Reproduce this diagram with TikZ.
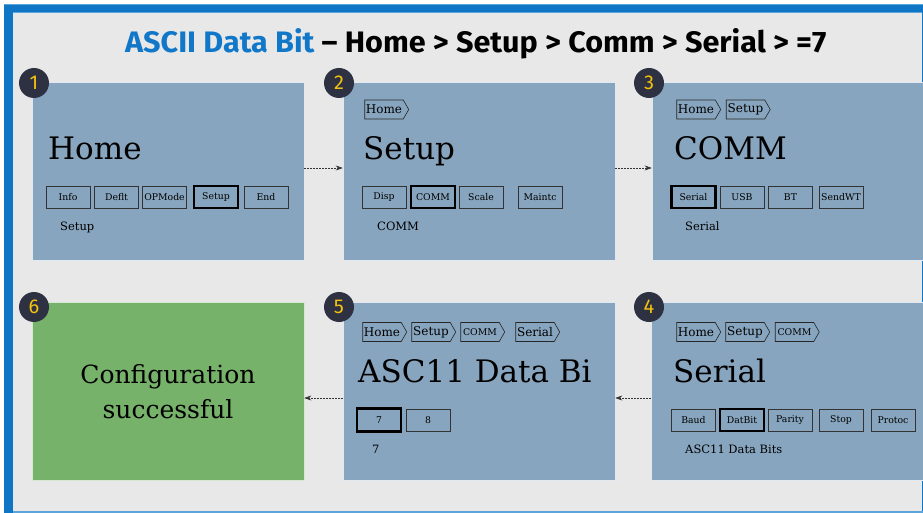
\documentclass[tikz,border=0pt]{standalone}
\usepackage{fontspec}
\setmainfont{DejaVu Serif}
\newfontfamily\titlefont{Fira Sans}
\usetikzlibrary{shapes.symbols,arrows.meta}
\definecolor{panelblue}{HTML}{87A5BE}
\definecolor{okgreen}{HTML}{77B26A}
\definecolor{frameblue}{HTML}{0E76C5}
\definecolor{lightframe}{HTML}{5BA5DC}
\definecolor{bggray}{HTML}{E8E8E8}
\definecolor{badgedark}{HTML}{2E3142}
\definecolor{badgenum}{HTML}{F4C20D}
\definecolor{titleblue}{HTML}{1177C8}
\tikzset{
  panelbox/.style={fill=panelblue, draw=white!75!panelblue, line width=0.6pt, minimum width=272pt, minimum height=178pt, inner sep=0pt},
  greenbox/.style={panelbox, fill=okgreen, draw=white!70!okgreen},
  btn/.style={draw=black!80, line width=0.8pt, minimum width=44pt, minimum height=22pt, inner sep=0pt, font=\fontsize{9.3}{10}\selectfont},
  btnsel/.style={btn, draw=black, line width=2.4pt},
  crumb/.style={signal, signal to=east, signal pointer angle=120, draw=black!85, line width=0.6pt, minimum width=44pt, minimum height=19pt, inner sep=0.5pt, font=\fontsize{12}{12}\selectfont},
  crumbsmall/.style={crumb, font=\fontsize{9.3}{10}\selectfont},
  badgec/.style={circle, fill=badgedark, minimum size=30pt, inner sep=0pt, text=badgenum, font=\titlefont\fontsize{20}{20}\selectfont},
  ptitle/.style={anchor=base west, inner sep=0pt, font=\fontsize{31}{31}\selectfont},
  plabel/.style={anchor=base west, inner sep=0pt, font=\fontsize{11.5}{12}\selectfont},
  bigtext/.style={anchor=base, inner sep=0pt, font=\fontsize{25}{30}\selectfont},
  dasharrow/.style={draw=black!80, line width=0.6pt, dash pattern=on 2pt off 1pt, -{Stealth[length=7pt,width=5pt]}}
}
\begin{document}
\begin{tikzpicture}[x=1pt,y=-1pt]
\useasboundingbox (0,0) rectangle (923,513);
\clip (0,0) rectangle (923,513);
% frame
\fill[white] (0,0) rectangle (923,513);
\fill[frameblue] (4,4) rectangle (930,513);
\fill[bggray] (13,12) rectangle (922,511);
\fill[lightframe] (13,511) rectangle (930,513);
\draw[lightframe, line width=0.6pt] (4,4.3) -- (930,4.3);
\draw[lightframe, line width=0.6pt] (13,12.3) -- (922,12.3);
% title
\node[anchor=base west, inner sep=0pt] (title) at (125,53)
  {\resizebox{701pt}{24pt}{\titlefont\bfseries{\color{titleblue}ASCII Data Bit}\ – Home > Setup > Comm > Serial > =7}};
% panels
\node[panelbox] (p1) at (168,171) {};
\node[panelbox] (p2) at (479,171) {};
\node[panelbox] (p3) at (788,171) {};
\node[panelbox] (p4) at (787,391) {};
\node[panelbox] (p5) at (479,391) {};
\node[greenbox] (p6) at (168,391) {};
% arrows
\draw[dasharrow] ([yshift=3pt]p1.east) -- ([yshift=3pt]p2.west);
\draw[dasharrow] ([yshift=3pt]p2.east) -- ([yshift=3pt]p3.west);
\draw[dasharrow] ([yshift=-7pt]p4.west) -- ([yshift=-7pt]p5.east);
\draw[dasharrow] ([yshift=-7pt]p5.west) -- ([yshift=-7pt]p6.east);
% badges
\node[badgec] (b1) at (34,83) {1};
\node[badgec] (b2) at (339,83) {2};
\node[badgec] (b3) at (649,83) {3};
\node[badgec] (b4) at (649,307) {4};
\node[badgec] (b5) at (339,307) {5};
\node[badgec] (b6) at (34,307) {6};
% panel 1
\node[ptitle] (t1) at (48,160) {Home};
\node[btn] (p1b1) at (68,197) {Info};
\node[btn] (p1b2) at (116.5,197) {Deflt};
\node[btn] (p1b3) at (164.5,197) {OPMode};
\node[btnsel] (p1b4) at (216,197) {Setup};
\node[btn] (p1b5) at (266,197) {End};
\node[plabel] (l1) at (60,230) {Setup};
% panel 2
\node[crumb] (c21) at (384,109.5) {Home};
\node[ptitle] (t2) at (363,160) {Setup};
\node[btn] (p2b1) at (384,197) {Disp};
\node[btnsel] (p2b2) at (433,197) {COMM};
\node[btn] (p2b3) at (481,197) {Scale};
\node[btn] (p2b4) at (540,197) {Maintc};
\node[plabel] (l2) at (377,230) {COMM};
% panel 3
\node[crumb] (c31) at (696,109.5) {Home};
\node[crumb] (c32) at (745.5,109.5) {Setup};
\node[ptitle] (t3) at (674,160) {COMM};
\node[btnsel] (p3b1) at (693.5,197) {Serial};
\node[btn] (p3b2) at (742,197) {USB};
\node[btn] (p3b3) at (790.5,197) {BT};
\node[btn] (p3b4) at (841,197) {SendWT};
\node[plabel] (l3) at (685,230) {Serial};
% panel 4
\node[crumb] (c41) at (696,332) {Home};
\node[crumb] (c42) at (745,332) {Setup};
\node[crumbsmall] (c43) at (794.5,332) {COMM};
\node[ptitle] (t4) at (673,382) {Serial};
\node[btn] (p4b1) at (693.5,420) {Baud};
\node[btnsel] (p4b2) at (742,420) {DatBit};
\node[btn] (p4b3) at (790,420) {Parity};
\node[btn] (p4b4) at (841,420) {Stop};
\node[btn] (p4b5) at (893,420) {Protoc};
\node[plabel] (l4) at (685,453) {ASC11 Data Bits};
% panel 5
\node[crumb] (c51) at (382,332) {Home};
\node[crumb] (c52) at (431,332) {Setup};
\node[crumbsmall] (c53) at (480,332) {COMM};
\node[crumb] (c54) at (535,332) {Serial};
\node[ptitle] (t5) at (358,382) {ASC11 Data Bi};
\node[btnsel, minimum height=23pt] (p5b1) at (379,420) {7};
\node[btn] (p5b2) at (428,420) {8};
\node[plabel] (l5) at (372,453) {7};
% panel 6
\node[bigtext] (t6a) at (168,383) {Configuration};
\node[bigtext] (t6b) at (168,418) {successful};
\end{tikzpicture}
\end{document}
